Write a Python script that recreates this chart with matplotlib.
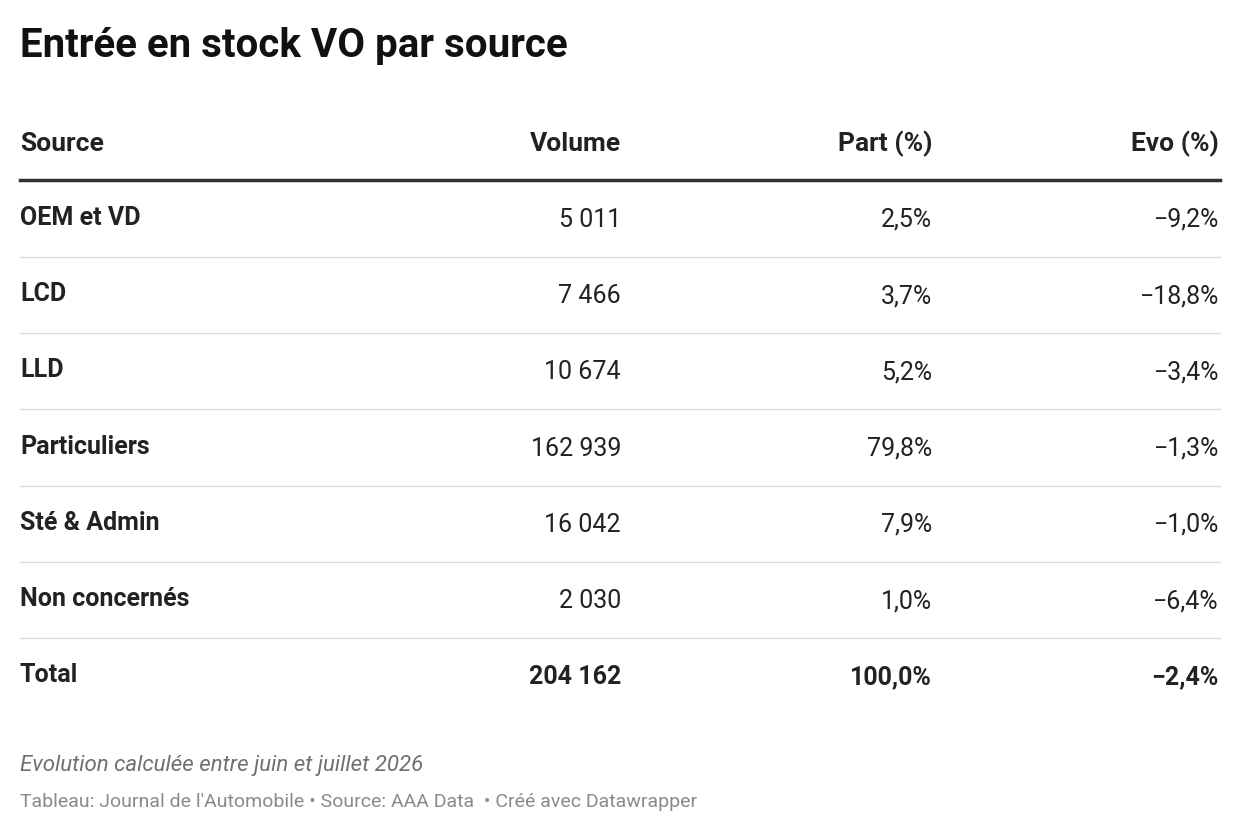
import matplotlib
matplotlib.use("Agg")
import matplotlib.pyplot as plt
from matplotlib.lines import Line2D

plt.rcParams['font.family'] = ['Roboto', 'DejaVu Sans']

W, H = 1240, 836
sources = ["OEM et VD", "LCD", "LLD", "Particuliers", "Sté & Admin", "Non concernés", "Total"]
volumes = ["5 011", "7 466", "10 674", "162 939", "16 042", "2 030", "204 162"]
parts = ["2,5%", "3,7%", "5,2%", "79,8%", "7,9%", "1,0%", "100,0%"]
evos = ["−9,2%", "−18,8%", "−3,4%", "−1,3%", "−1,0%", "−6,4%", "−2,4%"]
headers = ["Source", "Volume", "Part (%)", "Evo (%)"]

fig = plt.figure(figsize=(W/100, H/100), dpi=100)
fx = lambda x: x / W
fy = lambda y: 1 - y / H

fig.text(fx(20), fy(46), "Entrée en stock VO par source", fontsize=29, fontweight='bold',
         color='#111111', va='center', ha='left')

cols = [(20, 'left'), (621, 'right'), (932, 'right'), (1219, 'right')]
for (x, ha), h in zip(cols, headers):
    fig.text(fx(x), fy(144), h, fontsize=19, fontweight='bold', color='#222222', va='center', ha=ha)

fig.add_artist(Line2D([fx(20), fx(1220)], [fy(180), fy(180)], color='#333333', lw=2.5,
                      transform=fig.transFigure))

row_y0, dy = 218, 76.2
for i, row in enumerate(zip(sources, volumes, parts, evos)):
    y = row_y0 + i * dy
    total = i == len(sources) - 1
    for j, ((x, ha), val) in enumerate(zip(cols, row)):
        bold = (j == 0) or total
        yy = y + (0 if j == 0 else 2)
        fig.text(fx(x), fy(yy), val, fontsize=18, fontweight='bold' if bold else 'normal',
                 color='#222222', va='center', ha=ha)
    if not total:
        ly = y + 39
        fig.add_artist(Line2D([fx(20), fx(1220)], [fy(ly), fy(ly)], color='#dddddd', lw=1,
                              transform=fig.transFigure))

fig.text(fx(20), fy(766), "Evolution calculée entre juin et juillet 2026", fontsize=16,
         style='italic', color='#707070', va='center', ha='left')
fig.text(fx(20), fy(802), "Tableau: Journal de l'Automobile • Source: AAA Data  • Créé avec Datawrapper",
         fontsize=14, color='#8a8a8a', va='center', ha='left')

fig.savefig("out.png", dpi=100, facecolor='white')
